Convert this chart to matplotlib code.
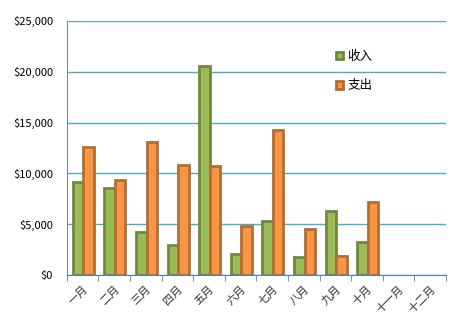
import numpy as np
import matplotlib.pyplot as plt
from matplotlib.patches import Patch
from matplotlib.ticker import FuncFormatter

plt.rcParams['font.family'] = ['Noto Sans CJK SC', 'DejaVu Sans']

months = ['一月', '二月', '三月', '四月', '五月', '六月',
          '七月', '八月', '九月', '十月', '十一月', '十二月']
income = [9200, 8600, 4200, 3000, 20600, 2100, 5300, 1800, 6300, 3300, 0, 0]
expense = [12600, 9400, 13100, 10850, 10700, 4850, 14300, 4500, 1900, 7200, 0, 0]
series_names = ['收入', '支出']

green_face, green_edge = '#9BBB59', '#71893F'
orange_face, orange_edge = '#F79646', '#B66D31'

fig = plt.figure(figsize=(4.58, 3.26), dpi=100)
ax = fig.add_axes([0.146, 0.156, 0.828, 0.780])

x = np.arange(len(months))
w = 0.33
for i in x:
    if income[i] > 0:
        ax.bar(i - w / 2 + 0.02, income[i], w, color=green_face,
               edgecolor=green_edge, linewidth=2, zorder=3)
    if expense[i] > 0:
        ax.bar(i + w / 2 + 0.02, expense[i], w, color=orange_face,
               edgecolor=orange_edge, linewidth=2, zorder=3)

ax.set_xlim(-0.5, len(months) - 0.5)
ax.set_ylim(0, 25000)
ax.set_yticks(np.arange(0, 25001, 5000))
ax.yaxis.set_major_formatter(FuncFormatter(lambda v, p: '${:,.0f}'.format(v)))
ax.grid(axis='y', color='#4BACC6', linewidth=1, zorder=0)

ax.set_xticks(x)
ax.set_xticklabels(months, rotation=45, ha='right', rotation_mode='anchor',
                   fontsize=8, color='#333333')
ax.set_xticks(np.arange(-0.5, len(months), 1), minor=True)
ax.tick_params(axis='x', which='major', length=0, pad=6)
ax.tick_params(axis='x', which='minor', length=4, color='#4F81BD', direction='out')
ax.tick_params(axis='y', length=0, pad=10, labelsize=8)

for s in ['top', 'right']:
    ax.spines[s].set_visible(False)
ax.spines['left'].set_color('#888888')
ax.spines['bottom'].set_color('#4F81BD')
ax.spines['bottom'].set_zorder(4)

handles = [Patch(facecolor=green_face, edgecolor=green_edge, linewidth=2),
           Patch(facecolor=orange_face, edgecolor=orange_edge, linewidth=2)]
ax.legend(handles, series_names, loc='upper left', bbox_to_anchor=(0.68, 0.93),
          frameon=False, handlelength=0.6, handleheight=0.6, handletextpad=0.3,
          labelspacing=1.3, fontsize=9)

fig.savefig('out.png', dpi=100)
